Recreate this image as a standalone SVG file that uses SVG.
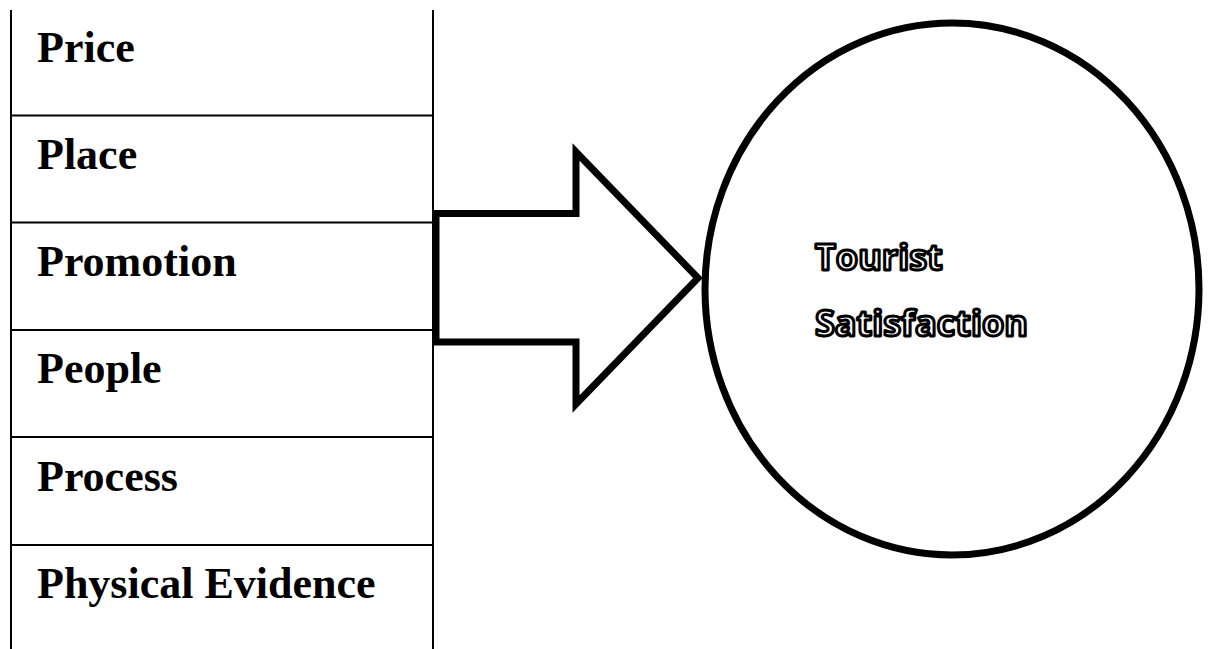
<svg xmlns="http://www.w3.org/2000/svg" width="1210" height="649" viewBox="0 0 1210 649">
<style>
.grid{stroke:#000;stroke-width:2;fill:none}
.lbl{font-family:"Liberation Serif","Times New Roman",serif;font-weight:bold;font-size:44px;fill:#000}
.thick{stroke:#000;stroke-width:7;fill:#fff;stroke-linejoin:miter}
.out{font-family:"Open Sans","Liberation Sans",sans-serif;font-weight:bold;font-size:36px;fill:#fff;stroke:#000;stroke-width:3;stroke-linejoin:round}
</style>
<rect width="1210" height="649" fill="#fff"/>
<g id="table">
<line class="grid" x1="11" y1="10" x2="11" y2="649"/>
<line class="grid" x1="433" y1="10" x2="433" y2="649"/>
<line class="grid" x1="10" y1="115.5" x2="433" y2="115.5"/>
<line class="grid" x1="10" y1="222.5" x2="433" y2="222.5"/>
<line class="grid" x1="10" y1="330" x2="433" y2="330"/>
<line class="grid" x1="10" y1="437" x2="433" y2="437"/>
<line class="grid" x1="10" y1="545" x2="433" y2="545"/>
</g>
<g id="price"><text class="lbl" x="37" y="62">Price</text></g>
<g id="place"><text class="lbl" x="37" y="169">Place</text></g>
<g id="promotion"><text class="lbl" x="37" y="276">Promotion</text></g>
<g id="people"><text class="lbl" x="37" y="383">People</text></g>
<g id="process"><text class="lbl" x="37" y="491">Process</text></g>
<g id="physical-evidence"><text class="lbl" x="37" y="598">Physical Evidence</text></g>
<g id="connectors">
<polygon class="thick" points="436,213.5 576,213.5 576,152 698,278 576,404 576,342 436,342"/>
</g>
<g id="tourist-satisfaction">
<ellipse cx="952" cy="289" rx="247" ry="266" fill="#fff" stroke="#000" stroke-width="7"/>
<text class="out" x="815" y="270">Tourist</text>
<text class="out" x="815" y="336">Satisfaction</text>
</g>
</svg>
